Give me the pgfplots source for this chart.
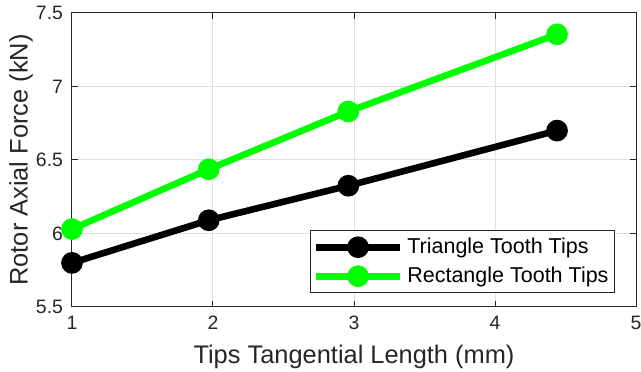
\documentclass[border=0pt]{standalone}
\usepackage{fontspec}
\setmainfont{Liberation Sans}
\usepackage{pgfplots}
\pgfplotsset{compat=1.18}
\definecolor{axgray}{rgb}{0.15,0.15,0.15}
\definecolor{gridgray}{rgb}{0.88,0.88,0.88}
\definecolor{limegreen}{rgb}{0,1,0}
\begin{document}
\begin{tikzpicture}
\begin{axis}[
  name=ax,
  scale only axis,
  width=282pt, height=147pt,
  xmin=1, xmax=5, ymin=5.5, ymax=7.5,
  xtick={1,2,3,4,5},
  ytick={5.5,6,6.5,7,7.5},
  /pgf/number format/assume math mode=true,
  tick label style={font=\fontsize{9.7}{11}\selectfont, text=axgray},
  xticklabel style={yshift=-1pt},
  yticklabel style={xshift=-1pt},
  axis line style={axgray, line width=0.5pt},
  tick style={axgray, line width=0.5pt},
  major tick length=3pt,
  tick align=inside,
  xtick pos=both, ytick pos=both,
  grid=major,
  major grid style={gridgray, line width=0.5pt},
  xlabel={Tips Tangential Length (mm)},
  ylabel={Rotor Axial Force (kN)},
  label style={font=\fontsize{12.7}{14}\selectfont, text=axgray},
  xlabel style={at={(axis description cs:0.5,-0.1905)}, anchor=base},
  ylabel style={at={(axis description cs:-0.0904,0.5)}, anchor=center},
  legend style={
    at={(axis description cs:0.9628,0.0476)}, anchor=south east,
    draw=axgray, line width=0.5pt,
    font=\fontsize{10.75}{12}\selectfont,
    row sep=1.2pt, inner xsep=1pt, inner ysep=1.5pt,
  },
  legend cell align=left,
  legend image code/.code={
    \draw[#1, mark repeat=2, mark phase=2]
      plot coordinates {(0pt,0pt) (21pt,0pt) (42pt,0pt)};
  },
]
\addplot[black, line width=3.3pt, mark=*, mark size=3.75pt, mark options={solid}]
  coordinates {(1,5.80) (1.97,6.09) (2.96,6.325) (4.44,6.70)};
\addlegendentry{Triangle Tooth Tips}
\addplot[limegreen, line width=3.3pt, mark=*, mark size=3.75pt, mark options={solid}]
  coordinates {(1,6.03) (1.97,6.437) (2.96,6.83) (4.44,7.355)};
\addlegendentry{Rectangle Tooth Tips}
\end{axis}
\pgfresetboundingbox
\path[use as bounding box]
  ([xshift=-36pt,yshift=-32.5pt]ax.south west) rectangle
  ([xshift=2.5pt,yshift=6.5pt]ax.north east);
\end{tikzpicture}
\end{document}
